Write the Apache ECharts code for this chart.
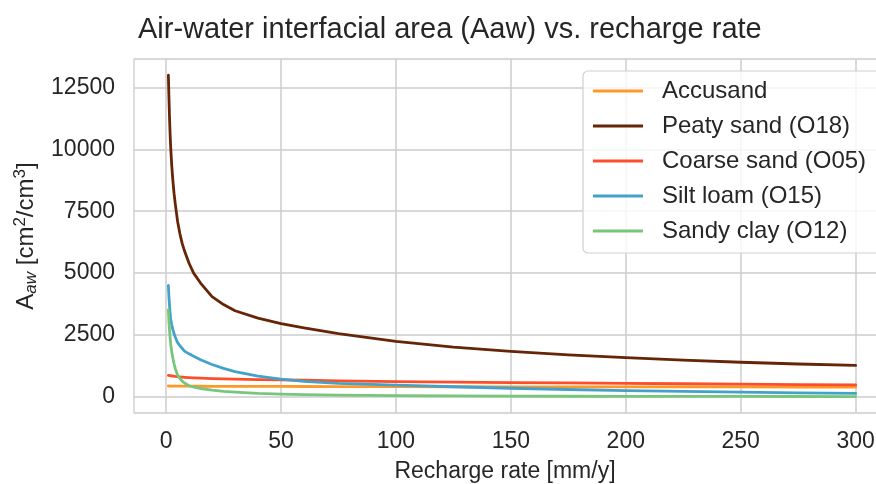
<!DOCTYPE html>
<html>
<head>
<meta charset="utf-8">
<script src="https://cdn.jsdelivr.net/npm/echarts@6/dist/echarts.min.js"></script>
<style>
  html, body { margin: 0; padding: 0; background: #fff; }
  #chart { width: 876px; height: 484px; }
</style>
</head>
<body>
<div id="chart"></div>
<script>
// recharge rate [mm/y] at which values were read
var rechargeRate = [1, 1.25, 1.5, 1.75, 2, 2.5, 3, 3.5, 4, 5, 6, 7, 8, 10, 12, 15, 20, 25, 30, 40, 50, 60, 75, 100, 125, 150, 175, 200, 225, 250, 275, 300];

// Aaw [cm2/cm3]
var accusand   = [440, 440, 440, 439, 439, 439, 438, 438, 437, 436, 436, 435, 434, 433, 432, 431, 429, 428, 427, 425, 423, 421, 418, 414, 411, 409, 407, 405, 404, 402, 401, 400];
var peatySand  = [13000, 12100, 11300, 10650, 10100, 9300, 8700, 8200, 7800, 7100, 6600, 6200, 5900, 5400, 5000, 4600, 4050, 3730, 3480, 3180, 2960, 2790, 2560, 2240, 2010, 1840, 1700, 1590, 1490, 1400, 1330, 1270];
var coarseSand = [870, 867, 864, 860, 855, 848, 840, 833, 826, 815, 805, 797, 790, 778, 768, 755, 738, 725, 715, 700, 690, 672, 650, 620, 600, 580, 565, 550, 532, 515, 500, 485];
var siltLoam   = [4500, 4050, 3700, 3400, 3150, 2900, 2700, 2550, 2420, 2200, 2070, 1960, 1850, 1740, 1640, 1500, 1310, 1150, 1020, 840, 715, 630, 550, 475, 410, 350, 300, 255, 220, 190, 165, 140];
var sandyClay  = [3520, 3050, 2700, 2400, 2150, 1800, 1550, 1330, 1150, 880, 740, 640, 560, 450, 400, 340, 275, 225, 190, 140, 115, 95, 75, 55, 42, 33, 27, 24, 21, 19, 17, 15];

var seriesNames = ['Accusand', 'Peaty sand (O18)', 'Coarse sand (O05)', 'Silt loam (O15)', 'Sandy clay (O12)'];
var seriesColors = ['#fe9929', '#662506', '#fc4e2a', '#43a2ca', '#78c679'];

var xTicks = [0, 50, 100, 150, 200, 250, 300];
var yTicks = [0, 2500, 5000, 7500, 10000, 12500];

var FONT = '"Liberation Sans", Arial, sans-serif';
var TXT = '#262626';
var GRID = '#cccccc';

function pairs(ys) {
    var out = [];
    for (var i = 0; i < rechargeRate.length; i++) {
        out.push([rechargeRate[i], ys[i]]);
    }
    return out;
}

var allData = [accusand, peatySand, coarseSand, siltLoam, sandyClay];
var series = [];
for (var k = 0; k < allData.length; k++) {
    series.push({
        name: seriesNames[k],
        type: 'line',
        data: pairs(allData[k]),
        showSymbol: false,
        lineStyle: { width: 2.8, color: seriesColors[k], join: 'round', cap: 'round' },
        itemStyle: { color: seriesColors[k] },
        animation: false
    });
}

var chart = echarts.init(document.getElementById('chart'));
var option = {
    backgroundColor: '#ffffff',
    animation: false,
    title: {
        text: 'Air-water interfacial area (Aaw) vs. recharge rate',
        left: 138,
        top: 15,
        padding: 0,
        textStyle: { fontFamily: FONT, fontSize: 29, fontWeight: 'normal', color: TXT }
    },
    legend: {
        orient: 'vertical',
        left: 583,
        top: 71,
        padding: [8, 30, 10, 10],
        itemGap: 11,
        itemWidth: 50,
        itemHeight: 3,
        icon: 'rect',
        backgroundColor: 'rgba(255,255,255,0.8)',
        borderColor: '#d0d0d0',
        borderWidth: 1.2,
        borderRadius: 5,
        textStyle: { fontFamily: FONT, fontSize: 24, lineHeight: 24, color: TXT, padding: [0, 0, 0, 14] },
        data: seriesNames
    },
    grid: {
        left: 134,
        top: 59,
        right: -14,
        bottom: 71,
        containLabel: false,
        outerBoundsMode: 'none',
        show: true,
        borderColor: GRID,
        borderWidth: 1.3
    },
    xAxis: {
        type: 'value',
        min: -13.95,
        max: 314.95,
        name: 'Recharge rate [mm/y]',
        nameLocation: 'middle',
        nameGap: 47,
        nameTextStyle: { fontFamily: FONT, fontSize: 23, color: TXT, padding: [0, 14, 0, 0] },
        axisLine: { show: false },
        axisTick: { show: false, customValues: xTicks },
        axisLabel: {
            customValues: xTicks, margin: 17, fontFamily: FONT, fontSize: 23, color: TXT,
            formatter: function (v) { return String(v); }
        },
        splitLine: { show: true, lineStyle: { color: GRID, width: 1.5 } }
    },
    yAxis: {
        type: 'value',
        min: -650,
        max: 13650,
        name: '{n|A}{sub|aw}{n| [cm}{sup|2}{n|/cm}{sup|3}{n|]}',
        nameLocation: 'middle',
        nameRotate: 90,
        nameGap: 86,
        nameTextStyle: {
            rich: {
                n: { fontFamily: FONT, fontSize: 24, lineHeight: 28, color: TXT },
                sub: { fontFamily: FONT, fontSize: 17, fontStyle: 'italic', lineHeight: 15, verticalAlign: 'bottom', color: TXT },
                sup: { fontFamily: FONT, fontSize: 17, lineHeight: 15, verticalAlign: 'top', color: TXT }
            }
        },
        axisLine: { show: false },
        axisTick: { show: false, customValues: yTicks },
        axisLabel: {
            customValues: yTicks, margin: 19, fontFamily: FONT, fontSize: 23, color: TXT,
            formatter: function (v) { return String(v); }
        },
        splitLine: { show: true, lineStyle: { color: GRID, width: 1.5 } }
    },
    series: series
};
chart.setOption(option);
</script>
</body>
</html>
